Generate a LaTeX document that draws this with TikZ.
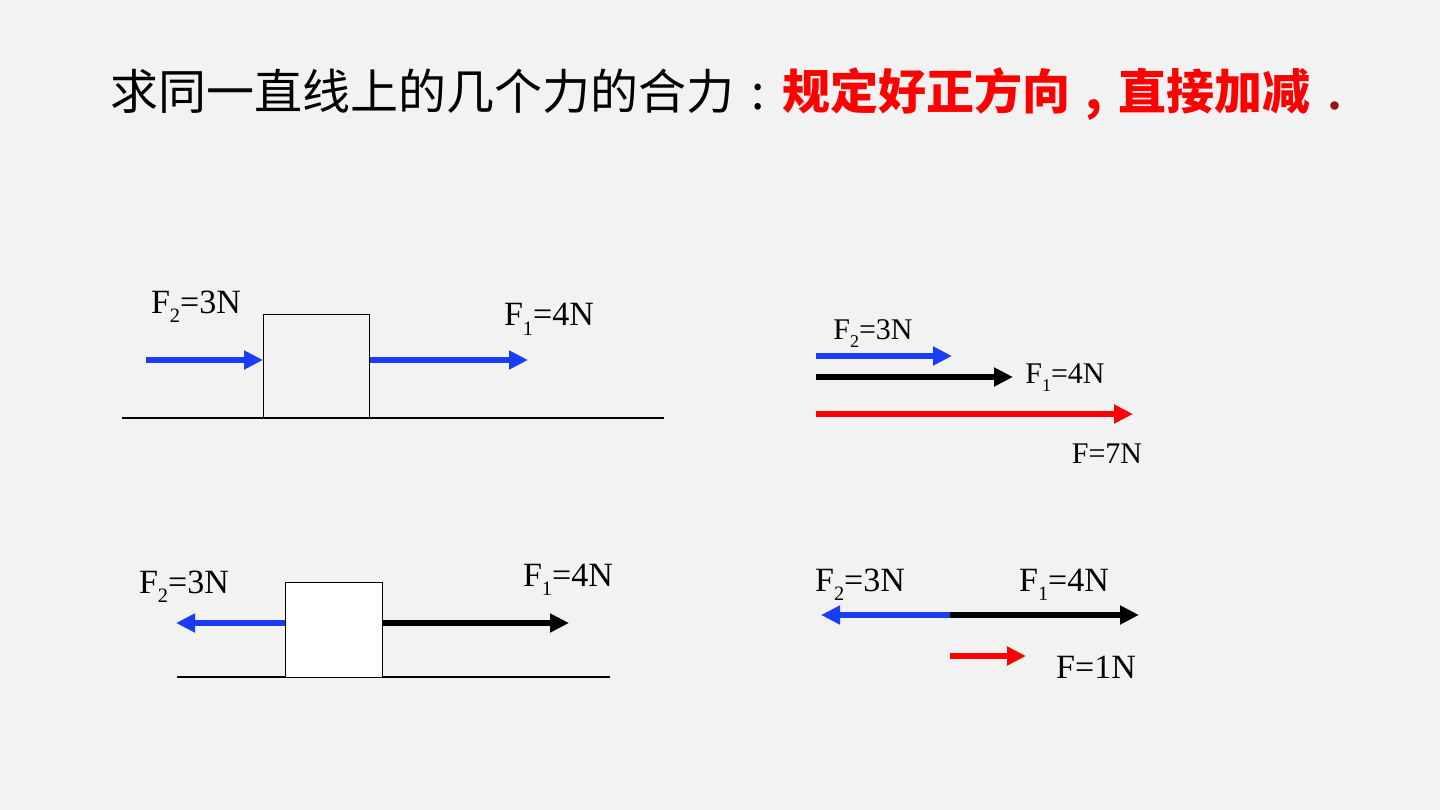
\documentclass[tikz,border=0pt]{standalone}
\usepackage{fontspec}
\setmainfont{Liberation Serif}
\newfontfamily\cjk{Noto Sans CJK SC}
\usetikzlibrary{arrows.meta,positioning}
\definecolor{bg}{RGB}{242,242,242}
\definecolor{fblue}{RGB}{25,60,245}
\definecolor{fred}{RGB}{255,0,0}
\definecolor{dotred}{RGB}{150,20,20}
\newcommand{\sub}[1]{\lower0.28em\hbox{\fontsize{0.6em}{0.6em}\selectfont #1}}

\begin{document}
\begin{tikzpicture}[x = 1pt, y = -1pt,
  force/.style = {-{Triangle[length=19pt 0 1, width=18pt 0 1]}, line width=5.5pt},
  lab/.style = {font=\fontsize{34}{34}\selectfont, inner sep=0pt, anchor=base},
  slab/.style = {font=\fontsize{30}{30}\selectfont, inner sep=0pt, anchor=base},
  block/.style = {draw, line width=1.2pt, anchor=north west, inner sep=0pt}]
\fill[bg] (0, 0) rectangle (1440, 810);
\useasboundingbox (0, 0) rectangle (1440, 810);

\node[anchor=base west, inner sep=0pt, font=\cjk\fontsize{48}{48}\selectfont] (title) at (110, 110)
  {求同一直线上的几个力的合力\makebox[48pt]{:}\textcolor{fred}{\bfseries 规定好正方向\makebox[48pt]{,}直接加减}};
\node[anchor=base, inner sep=0pt, text=dotred, font=\bfseries\fontsize{52}{52}\selectfont] (dot) at (1335, 110) {.};

% top left
\draw[line width=1.2pt] (122, 418) coordinate (g1) -- (664, 418) coordinate (g2);
\node[block, minimum width=106pt, minimum height=104pt] (box) at (263, 314) {};
\coordinate (a) at (146, 360);
\coordinate (b) at (528, 360);
\draw[force, fblue] (a) -- (box.west |- a);
\draw[force, fblue] (box.east |- b) -- (b);
\node[lab] (f2) at (196, 313) {F\sub{2}=3N};
\node[lab] (f1) at (549, 326) {F\sub{1}=4N};

% bottom left
\draw[line width=1.2pt] (177, 677) coordinate (g3) -- (610, 677) coordinate (g4);
\node[block, fill=white, minimum width=97pt, minimum height=95pt] (box1) at (285, 582) {};
\coordinate (c) at (176, 623);
\coordinate (d) at (569, 623);
\draw[force, fblue] (box1.west |- c) -- (c);
\draw[force, black] (box1.east |- d) -- (d);
\node[lab] (f21) at (184, 593) {F\sub{2}=3N};
\node[lab] (f11) at (568, 586) {F\sub{1}=4N};

% top right
\coordinate (p) at (816, 356);
\coordinate (q) at (952, 356);
\coordinate (r) at (816, 377);
\coordinate (s) at (1013, 377);
\coordinate (t) at (816, 414);
\coordinate (u) at (1133, 414);
\draw[force, fblue] (p) -- (q);
\draw[force, black] (r) -- (s);
\draw[force, fred] (t) -- (u);
\node[slab] (f22) at (873, 339) {F\sub{2}=3N};
\node[slab] (f12) at (1065, 383) {F\sub{1}=4N};
\node[slab] (f) at (1107, 463) {F=7N};

% bottom right
\coordinate (o) at (950, 615);
\coordinate (l) at (821, 615);
\coordinate (m) at (1139, 615);
\coordinate (v) at (950, 656);
\coordinate (w) at (1026, 656);
\draw[force, fblue] (o) -- (l);
\draw[force, black] (o) -- (m);
\draw[force, fred] (v) -- (w);
\node[lab] (f23) at (860, 591) {F\sub{2}=3N};
\node[lab] (f13) at (1064, 591) {F\sub{1}=4N};
\node[lab] (f0) at (1096, 678) {F=1N};

\end{tikzpicture}
\end{document}
